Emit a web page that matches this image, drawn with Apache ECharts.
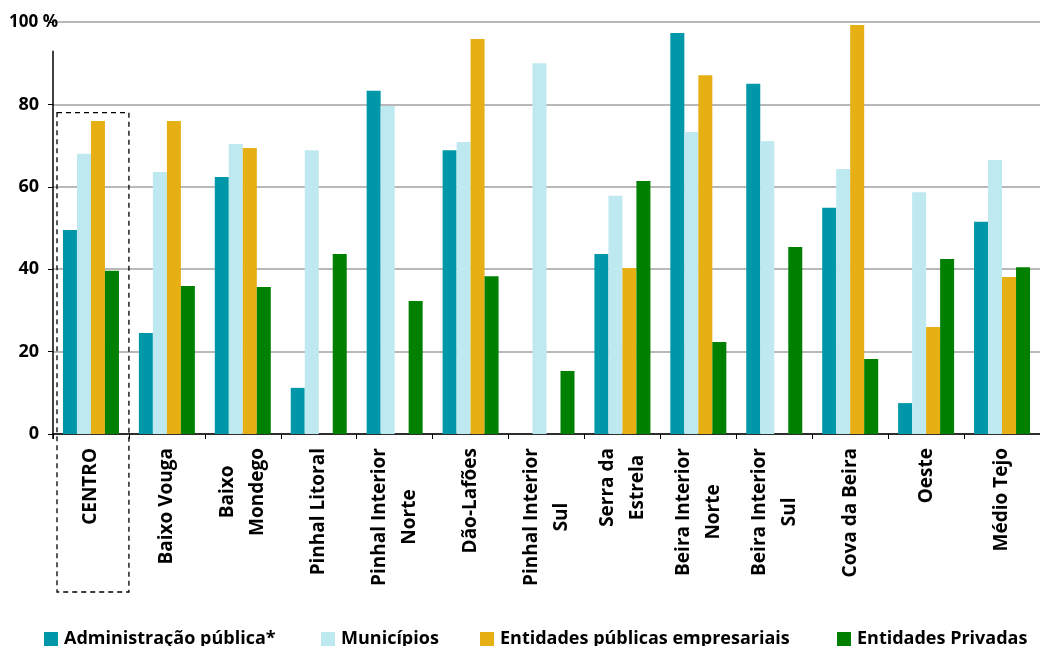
<!DOCTYPE html>
<html>
<head>
<meta charset="utf-8">
<script src="https://cdn.jsdelivr.net/npm/echarts@6/dist/echarts.min.js"></script>
<style>
  html, body { margin: 0; padding: 0; background: #fff; }
  #chart { width: 1040px; height: 646px; }
</style>
</head>
<body>
<div id="chart"></div>
<script>
// Regions (NUTS III) of the Centro region
const categories = [
  'CENTRO', 'Baixo Vouga', 'Baixo\nMondego', 'Pinhal Litoral',
  'Pinhal Interior\nNorte', 'Dão-Lafões', 'Pinhal Interior\nSul',
  'Serra da\nEstrela', 'Beira Interior\nNorte', 'Beira Interior\nSul',
  'Cova da Beira', 'Oeste', 'Médio Tejo'
];

// Percentages by type of entity (null = no value)
const administracaoPublica = [49.5, 24.5, 62.4, 11.2, 83.3, 68.9, null, 43.7, 97.3, 85.0, 54.9, 7.5, 51.5];
const municipios           = [68.0, 63.6, 70.4, 68.9, 79.6, 70.9, 90.0, 57.8, 73.3, 71.1, 64.3, 58.7, 66.5];
const entidadesPublicasEmp = [76.0, 76.0, 69.4, null, null, 95.9, null, 40.3, 87.1, null, 99.3, 26.0, 38.1];
const entidadesPrivadas    = [39.6, 35.9, 35.7, 43.7, 32.3, 38.3, 15.3, 61.4, 22.3, 45.4, 18.2, 42.5, 40.5];

const seriesNames = [
  'Administração pública*', 'Municípios',
  'Entidades públicas empresariais', 'Entidades Privadas'
];
const seriesColors = ['#0098A8', '#BFE9F0', '#E6AF14', '#008000'];
const seriesData = [administracaoPublica, municipios, entidadesPublicasEmp, entidadesPrivadas];

// Left offsets of the four legend entries along the bottom row
const legendLefts = [44, 321, 480, 837];

const FONT = '"Open Sans", Lato, sans-serif';

const chart = echarts.init(document.getElementById('chart'), null, { renderer: 'canvas' });

chart.setOption({
  animation: false,
  backgroundColor: '#ffffff',
  textStyle: { fontFamily: FONT },
  grid: { left: 53, right: -9, top: 22, bottom: 212, containLabel: false },
  legend: seriesNames.map((name, i) => ({
    top: 630,
    left: legendLefts[i],
    padding: 0,
    icon: 'rect',
    itemWidth: 14,
    itemHeight: 14,
    data: [name],
    textStyle: { fontFamily: FONT, fontWeight: 'bold', fontSize: 18, color: '#000', padding: [0, 0, 0, 1] }
  })),
  xAxis: {
    type: 'category',
    data: categories,
    axisLine: { lineStyle: { color: '#000', width: 1.5 } },
    axisTick: { show: true, length: 5, alignWithLabel: false, lineStyle: { color: '#000', width: 1 } },
    axisLabel: {
      interval: 0,
      rotate: 90,
      margin: 14,
      color: '#000',
      formatter: v => v.split('\n').map(s => '{c|' + s + '}').join('\n'),
      rich: {
        c: { align: 'center', fontFamily: FONT, fontWeight: 'bold', fontSize: 19, color: '#000', lineHeight: 30 }
      }
    }
  },
  yAxis: {
    type: 'value',
    min: 0,
    max: 100,
    interval: 20,
    name: '100 %',
    nameLocation: 'end',
    nameGap: 0,
    nameTextStyle: {
      align: 'right', verticalAlign: 'middle',
      fontFamily: FONT, fontWeight: 'bold', fontSize: 17, color: '#000',
      padding: [0, -5, 0, 0]
    },
    axisLine: { show: false },
    axisTick: { show: true, length: 5, lineStyle: { color: '#000', width: 1 } },
    splitLine: { show: true, lineStyle: { color: '#a0a0a0', width: 1.5 } },
    axisLabel: {
      margin: 14,
      color: '#000',
      fontFamily: FONT,
      fontWeight: 'bold',
      fontSize: 18,
      formatter: v => (v === 100 ? '' : String(v))
    }
  },
  series: seriesData.map((d, i) => ({
    name: seriesNames[i],
    type: 'bar',
    data: d,
    barWidth: 14,
    barGap: '0%',
    itemStyle: { color: seriesColors[i] }
  }))
});

// Vertical axis line and the dashed frame around the regional total
function drawOverlay() {
  const c0 = chart.convertToPixel({ xAxisIndex: 0 }, categories[0]);
  const c1 = chart.convertToPixel({ xAxisIndex: 0 }, categories[1]);
  const band = c1 - c0;
  const yZero = chart.convertToPixel({ yAxisIndex: 0 }, 0);
  const yTop = chart.convertToPixel({ yAxisIndex: 0 }, 93);
  const yBox = chart.convertToPixel({ yAxisIndex: 0 }, 78);
  const axisX = c0 - band / 2;
  chart.setOption({
    graphic: [
      {
        type: 'line',
        shape: { x1: axisX, y1: yTop, x2: axisX, y2: yZero + 5 },
        style: { stroke: '#000', lineWidth: 1.5 },
        z: 10
      },
      {
        type: 'rect',
        shape: { x: axisX + 4, y: yBox, width: band - 4, height: 592 - yBox },
        style: { fill: null, stroke: '#000', lineWidth: 1.3, lineDash: [5, 4] },
        z: 10
      }
    ]
  });
}
drawOverlay();
</script>
</body>
</html>
